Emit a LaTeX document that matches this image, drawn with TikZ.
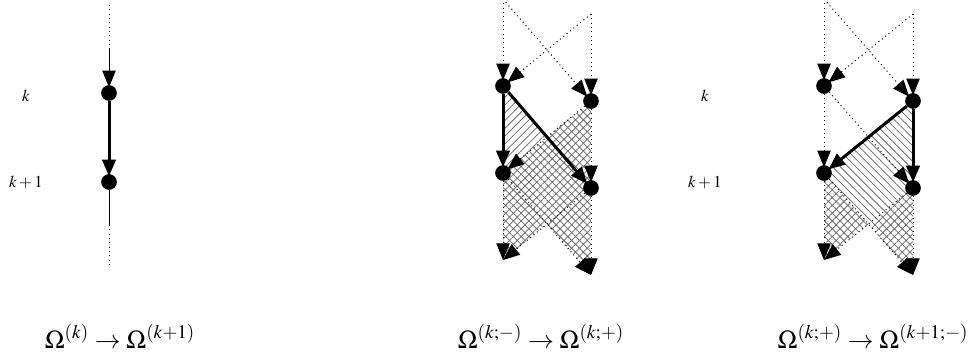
\documentclass[tikz,border=0pt]{standalone}
\usepackage{mathptmx}
\usepackage{fontspec}
\setmainfont{Liberation Serif}
\usetikzlibrary{arrows.meta,calc,patterns.meta}
\pgfdeclarelayer{fondo}
\pgfsetlayers{fondo,main}

\begin{document}
\begin{tikzpicture}[x=0.6pt,y=-0.6pt,
      punto/.style={circle,fill=black,inner sep=0pt,minimum size=9.4pt},
      flecha/.style={-{Triangle[length=10pt,width=8pt]},shorten >=-1.5pt},
      grueso/.style={flecha,line width=1.8pt},
      fino/.style={line width=0.6pt},
      puntos/.style={flecha,dotted,line width=0.6pt},
      rayas/.style={pattern={Lines[angle=#1,distance=3.3pt,line width=0.45pt]},pattern color=black!60},
      cruz/.style={pattern={Hatch[angle=45,distance=3.3pt,line width=0.45pt]},pattern color=black!60},
      etiq/.style={anchor=base,font=\normalsize},
      pie/.style={anchor=base,font=\fontsize{15.5}{18}\selectfont}]
    \useasboundingbox (0,0) rectangle (978,361);

    % panel 1: one column
    \coordinate (p0) at (109,5);
    \coordinate (p0m) at (109,48);
    \node[punto] (pk) at (109,93) {};
    \node[punto] (pk1) at (109,182) {};
    \coordinate (p2m) at (109,225);
    \coordinate (p2) at (109,268);
    \draw[fino,dotted] (p0) -- (p0m);
    \draw[fino,flecha] (p0m) -- (pk);
    \draw[grueso] (pk) -- (pk1);
    \draw[fino] (pk1) -- (p2m);
    \draw[fino,dotted] (p2m) -- (p2);
    \node[etiq] (lk) at (26,102) {$k$};
    \node[etiq] (lk1) at (26,188) {$k+1$};

    % panel 2
    \coordinate (aL0) at (503,-1);
    \coordinate (aR0) at (591,14);
    \node[punto] (aL1) at (503,86) {};
    \node[punto] (aR1) at (591,101) {};
    \node[punto] (aL2) at (503,173) {};
    \node[punto] (aR2) at (591,188) {};
    \coordinate (aL3) at (503,260);
    \coordinate (aR3) at (591,275);
    \begin{pgfonlayer}{fondo}
      \fill[rayas=45] (aL1.center) -- ($(aL1)!0.5!(aR2)$) -- (aL2.center) -- cycle;
      \fill[cruz] (aR1.center) -- (aL2.center) -- (aL3) -- ($(aL2)!0.5!(aR3)$) -- (aR3) -- cycle;
    \end{pgfonlayer}
    \draw[puntos] (aL0) -- (aL1);
    \draw[puntos] (aR0) -- (aL1);
    \draw[puntos] (aL0) -- (aR1);
    \draw[puntos] (aR0) -- (aR1);
    \draw[grueso] (aL1) -- (aL2);
    \draw[grueso] (aL1) -- (aR2);
    \draw[puntos] (aR1) -- (aL2);
    \draw[puntos] (aR1) -- (aR2);
    \draw[puntos,shorten >=0pt] (aL2) -- (aL3);
    \draw[puntos,shorten >=0pt] (aR2) -- (aL3);
    \draw[puntos,shorten >=0pt] (aL2) -- (aR3);
    \draw[puntos,shorten >=0pt] (aR2) -- (aR3);

    % panel 3
    \coordinate (bL0) at (824,-1);
    \coordinate (bR0) at (913,14);
    \node[punto] (bL1) at (824,86) {};
    \node[punto] (bR1) at (913,101) {};
    \node[punto] (bL2) at (824,173) {};
    \node[punto] (bR2) at (913,188) {};
    \coordinate (bL3) at (824,260);
    \coordinate (bR3) at (913,275);
    \coordinate (bX) at ($(bL2)!0.5!(bR3)$);
    \begin{pgfonlayer}{fondo}
      \fill[rayas=-45] (bR1.center) -- (bL2.center) -- (bX) -- (bR2.center) -- cycle;
      \fill[cruz] (bL2.center) -- (bL3) -- (bX) -- cycle;
      \fill[cruz] (bR2.center) -- (bX) -- (bR3) -- cycle;
    \end{pgfonlayer}
    \draw[puntos] (bL0) -- (bL1);
    \draw[puntos] (bR0) -- (bL1);
    \draw[puntos] (bL0) -- (bR1);
    \draw[puntos] (bR0) -- (bR1);
    \draw[puntos] (bL1) -- (bL2);
    \draw[puntos] (bL1) -- (bR2);
    \draw[grueso] (bR1) -- (bL2);
    \draw[grueso] (bR1) -- (bR2);
    \draw[puntos,shorten >=0pt] (bL2) -- (bL3);
    \draw[puntos,shorten >=0pt] (bR2) -- (bL3);
    \draw[puntos,shorten >=0pt] (bL2) -- (bR3);
    \draw[puntos,shorten >=0pt] (bR2) -- (bR3);
    \node[etiq] (mk) at (705,102) {$k$};
    \node[etiq] (mk1) at (705,188) {$k+1$};

    % captions
    \node[pie] (c1) at (120,348) {$\Omega^{(k)}\rightarrow\Omega^{(k+1)}$};
    \node[pie] (c2) at (541,348) {$\Omega^{(k;-)}\rightarrow\Omega^{(k;+)}$};
    \node[pie] (c3) at (873,348) {$\Omega^{(k;+)}\rightarrow\Omega^{(k+1;-)}$};
  \end{tikzpicture}
\end{document}
